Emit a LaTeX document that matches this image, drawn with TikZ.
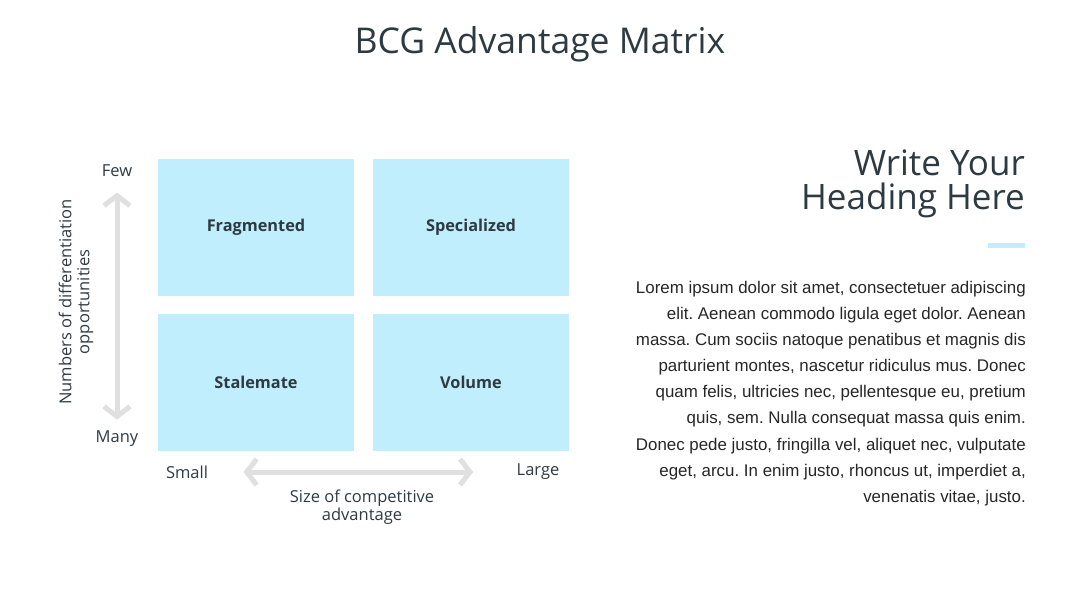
\documentclass[tikz,border=0pt]{standalone}
\usepackage{fontspec}
\setmainfont{Open Sans}
\newfontfamily\bodyfont{Liberation Sans}
\usetikzlibrary{positioning,arrows.meta}

\definecolor{ink}{HTML}{2E3A42}
\definecolor{cellblue}{HTML}{C1EEFC}
\definecolor{axisgray}{HTML}{E0E0E0}

\begin{document}
\frenchspacing
\begin{tikzpicture}[
    x=1pt, y=-1pt,
    cell/.style={fill=cellblue, minimum width=196pt, minimum height=137pt,
                 inner sep=0pt, font=\fontsize{16.3}{18}\selectfont\bfseries,
                 text=ink},
    tick/.style={font=\fontsize{16.5}{18}\selectfont, text=ink},
    axis/.style={{Straight Barb[length=10pt,width=26pt]}-{Straight Barb[length=10pt,width=26pt]},
                 axisgray, line width=5pt},
  ]
  \useasboundingbox (0,0) rectangle (1080,608);

  % --- title ---
  \node[font=\fontsize{35.5}{40}\selectfont, text=ink] (title) at (540,44)
    {BCG Advantage Matrix};

  % --- the four cells ---
  \def\colA{256} \def\colB{471}
  \def\rowA{226} \def\rowB{382}
  \node[cell] (frag)  at (\colA,\rowA+1) {Fragmented};
  \node[cell] (spec)  at (\colB,\rowA+1) {Specialized};
  \node[cell] (stale) at (\colA,\rowB) {Stalemate};
  \node[cell] (vol)   at (\colB,\rowB) {Volume};

  % --- vertical axis ---
  \node[tick] (few)  at (117,171) {Few};
  \node[tick] (many) at (117,439) {Many};
  \draw[axis, shorten <=12pt, shorten >=8pt] (few) -- (many);
  \node[tick, rotate=90, align=center] (ylab) at (76,302)
    {Numbers of differentiation\\opportunities};

  % --- horizontal axis ---
  \node[tick] (small) at (187,472) {Small};
  \node[tick] (large) at (538,472) {Large};
  \draw[axis, shorten <=32pt, shorten >=40pt] (small) -- (large);
  \node[tick, align=center] (xlab) at (362,507)
    {Size of competitive\\advantage};

  % --- right column: heading, bar, body text ---
  \node[font=\fontsize{35}{34}\selectfont, text=ink, align=right,
        anchor=north east, inner sep=0pt] (head) at (1025,150)
    {Write Your\\Heading Here};
  \fill[cellblue] (988,243) rectangle (1025,248);
  \node[font=\bodyfont\fontsize{16.9}{26.1}\selectfont, text=black!85,
        align=right, anchor=north east, inner sep=0pt] (body) at (1026,281)
    {Lorem ipsum dolor sit amet, consectetuer adipiscing\\
     elit. Aenean commodo ligula eget dolor. Aenean\\
     massa. Cum sociis natoque penatibus et magnis dis\\
     parturient montes, nascetur ridiculus mus. Donec\\
     quam felis, ultricies nec, pellentesque eu, pretium\\
     quis, sem. Nulla consequat massa quis enim.\\
     Donec pede justo, fringilla vel, aliquet nec, vulputate\\
     eget, arcu. In enim justo, rhoncus ut, imperdiet a,\\
     venenatis vitae, justo.};
\end{tikzpicture}
\end{document}
